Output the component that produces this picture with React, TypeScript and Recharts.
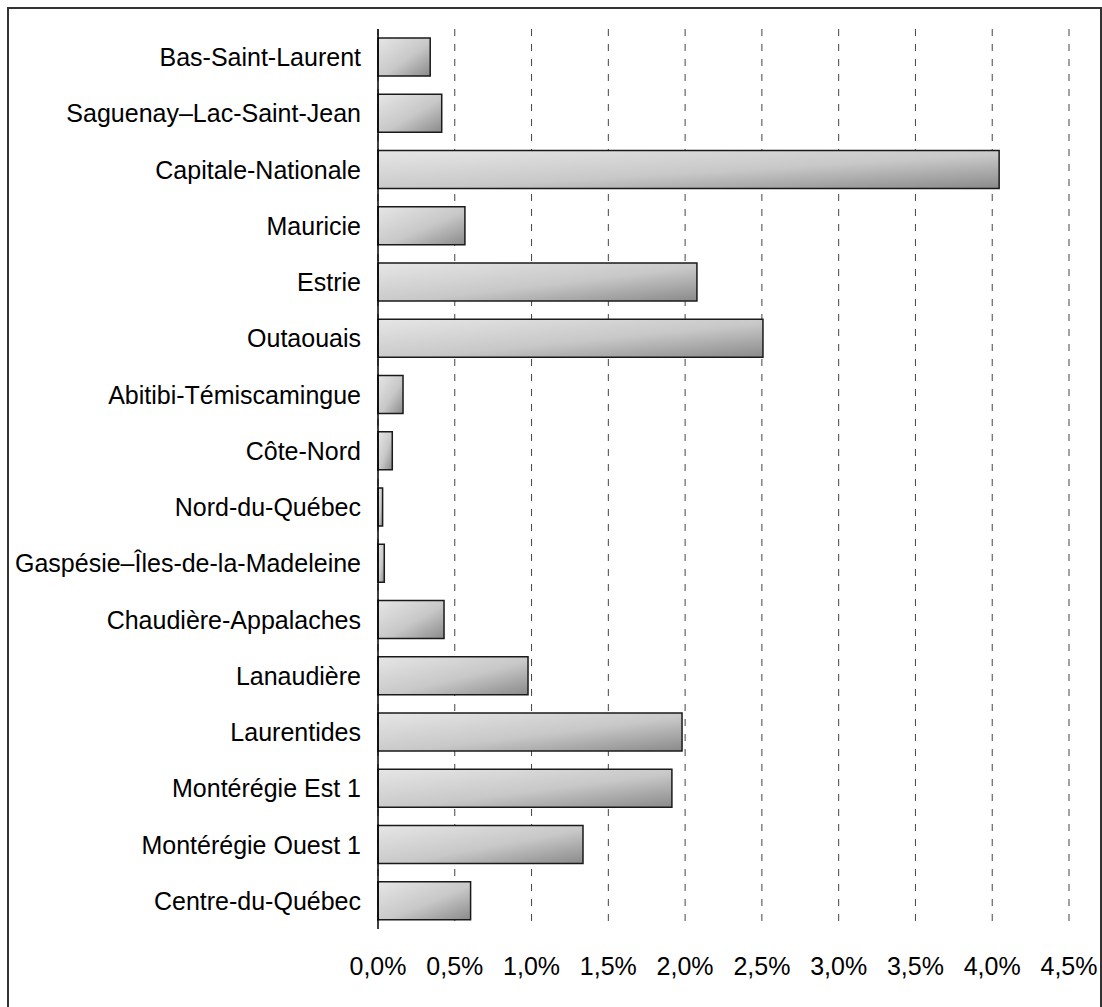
import React from 'react';
import { BarChart, Bar, XAxis, YAxis, CartesianGrid } from 'recharts';

const regions = [
  'Bas-Saint-Laurent',
  'Saguenay–Lac-Saint-Jean',
  'Capitale-Nationale',
  'Mauricie',
  'Estrie',
  'Outaouais',
  'Abitibi-Témiscamingue',
  'Côte-Nord',
  'Nord-du-Québec',
  'Gaspésie–Îles-de-la-Madeleine',
  'Chaudière-Appalaches',
  'Lanaudière',
  'Laurentides',
  'Montérégie Est 1',
  'Montérégie Ouest 1',
  'Centre-du-Québec',
];

// share in percent
const shares = [0.34, 0.415, 4.045, 0.566, 2.077, 2.507, 0.163, 0.093, 0.03, 0.041, 0.43, 0.977, 1.98, 1.914, 1.335, 0.603];

const xTicks = [0, 0.5, 1, 1.5, 2, 2.5, 3, 3.5, 4, 4.5];

const data = regions.map((name, i) => ({ name, value: shares[i] }));

const FONT = '"Liberation Sans", Arial, sans-serif';

const fmtPct = (v: number) => v.toFixed(1).replace('.', ',') + '%';

export default function App() {
  return (
    <div style={{ position: 'absolute', left: 0, top: 0, width: 1102, height: 1007, background: '#fff', overflow: 'hidden' }}>
      <div
        style={{
          position: 'absolute',
          left: 7,
          top: 7,
          width: 1095,
          height: 1010,
          border: '2px solid #333',
          boxSizing: 'border-box',
        }}
      />
      <div style={{ position: 'absolute', left: 0, top: 0 }}>
        <BarChart
          width={1102}
          height={1007}
          data={data}
          layout="vertical"
          margin={{ top: 29, right: 33, bottom: 48, left: 0 }}
        >
          <defs>
            <linearGradient id="barGrad" x1="0" y1="0" x2="1" y2="1">
              <stop offset="0%" stopColor="#e6e6e6" />
              <stop offset="55%" stopColor="#c8c8c8" />
              <stop offset="100%" stopColor="#8a8a8a" />
            </linearGradient>
          </defs>
          <CartesianGrid horizontal={false} stroke="#444" strokeDasharray="7 8" />
          <XAxis
            type="number"
            domain={[0, 4.5]}
            ticks={xTicks}
            tickFormatter={fmtPct}
            height={30}
            axisLine={false}
            tickLine={false}
            tickSize={0}
            tickMargin={28}
            tick={{ fill: '#000', fontSize: 25, fontFamily: FONT }}
            interval={0}
          />
          <YAxis
            type="category"
            dataKey="name"
            width={378}
            axisLine={{ stroke: '#000', strokeWidth: 1.5 }}
            tickLine={false}
            tickSize={0}
            tickMargin={17}
            tick={{ fill: '#000', fontSize: 25, fontFamily: FONT }}
            interval={0}
          />
          <Bar
            dataKey="value"
            barSize={38}
            fill="url(#barGrad)"
            stroke="#1a1a1a"
            strokeWidth={1.5}
            isAnimationActive={false}
          />
        </BarChart>
      </div>
    </div>
  );
}
